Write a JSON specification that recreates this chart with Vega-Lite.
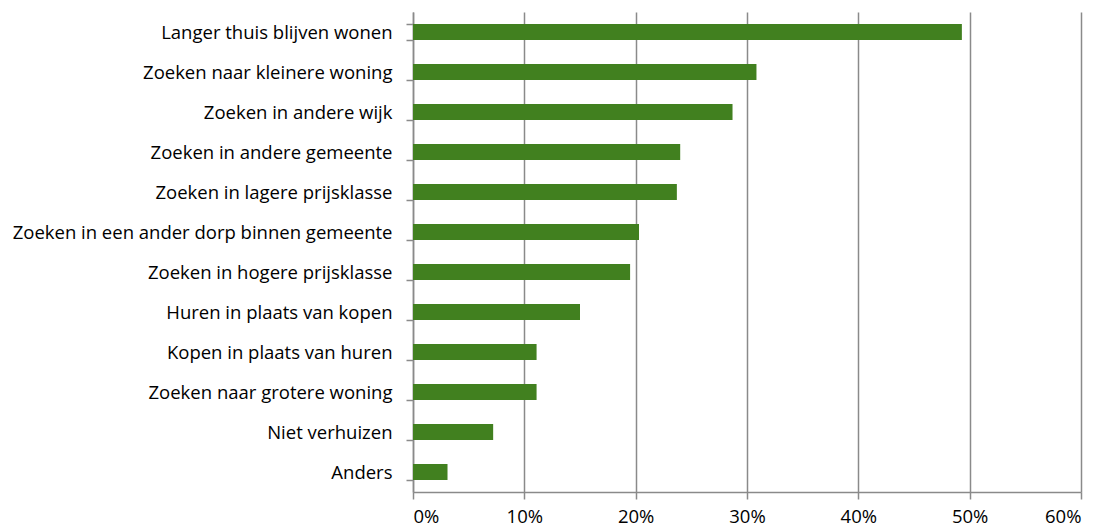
{
  "$schema": "https://vega.github.io/schema/vega-lite/v6.json",
  "width": 668,
  "height": 480,
  "autosize": {"type": "none"},
  "padding": {"left": 413, "top": 12, "right": 21, "bottom": 36},
  "background": "white",
  "config": {"view": {"stroke": null}, "font": "Open Sans"},
  "data": {"values": [
    {"cat": "Langer thuis blijven wonen", "v": 0.493},
    {"cat": "Zoeken naar kleinere woning", "v": 0.3085},
    {"cat": "Zoeken in andere wijk", "v": 0.287},
    {"cat": "Zoeken in andere gemeente", "v": 0.240},
    {"cat": "Zoeken in lagere prijsklasse", "v": 0.237},
    {"cat": "Zoeken in een ander dorp binnen gemeente", "v": 0.203},
    {"cat": "Zoeken in hogere prijsklasse", "v": 0.195},
    {"cat": "Huren in plaats van kopen", "v": 0.150},
    {"cat": "Kopen in plaats van huren", "v": 0.111},
    {"cat": "Zoeken naar grotere woning", "v": 0.111},
    {"cat": "Niet verhuizen", "v": 0.072},
    {"cat": "Anders", "v": 0.031}
  ]},
  "mark": {"type": "bar", "color": "#41801f"},
  "encoding": {
    "y": {
      "field": "cat", "type": "nominal", "sort": null, "title": null,
      "scale": {"paddingInner": 0.6, "paddingOuter": 0.3},
      "axis": {
        "domainColor": "#8a8a8a", "domainWidth": 1.5,
        "tickColor": "#8a8a8a", "tickWidth": 1.5, "tickSize": 7, "tickBand": "extent",
        "labelFont": "Open Sans", "labelFontSize": 18.5, "labelColor": "#000000",
        "labelPadding": 14, "labelLimit": 500
      }
    },
    "x": {
      "field": "v", "type": "quantitative", "title": null,
      "scale": {"domain": [0, 0.6], "nice": false},
      "axis": {
        "format": ".0%", "values": [0, 0.1, 0.2, 0.3, 0.4, 0.5, 0.6],
        "grid": true, "gridColor": "#8a8a8a", "gridWidth": 1.5,
        "domainColor": "#8a8a8a", "domainWidth": 1.5,
        "tickColor": "#8a8a8a", "tickWidth": 1.5, "tickSize": 7,
        "labelFont": "Open Sans", "labelFontSize": 18.5, "labelColor": "#000000",
        "labelPadding": 8
      }
    }
  }
}
